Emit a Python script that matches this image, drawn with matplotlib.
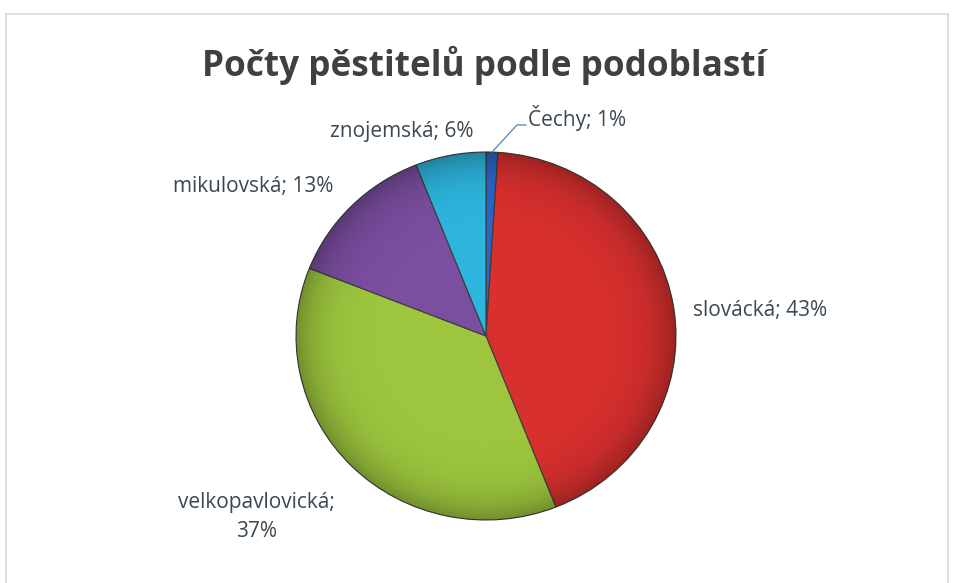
import matplotlib.pyplot as plt
from matplotlib.patches import Rectangle, Circle
import numpy as np

# data
regions = ['Čechy', 'slovácká', 'velkopavlovická', 'mikulovská', 'znojemská']
shares = [1, 43, 37, 13, 6]
colors = ['#2a66c6', '#d8302e', '#9dc63e', '#7b4ea0', '#2db5dd']
title = 'Počty pěstitelů podle podoblastí'

plt.rcParams['font.family'] = ['Open Sans', 'DejaVu Sans']

fig = plt.figure(figsize=(9.54, 5.83), dpi=100)
fig.patch.set_facecolor('white')

# light chart frame
fig.patches.append(Rectangle((6 / 954, -0.05), 942 / 954, 1.05 - 14 / 583,
                             transform=fig.transFigure, fill=False,
                             edgecolor='#d6dbe0', linewidth=1.2))

# pie axes (a bit wider than tall, like the source)
ax = fig.add_axes([(486 - 190) / 954, 63 / 583, 380 / 954, 368 / 583])
labels = ['%s; %d%%' % (r, s) for r, s in zip(regions, shares)]
labels[2] = 'velkopavlovická;\n%d%%' % shares[2]
wedges, texts = ax.pie(shares, labels=labels, colors=colors, startangle=90,
                       counterclock=False,
                       wedgeprops=dict(edgecolor='#3c3c3c', linewidth=0.8),
                       textprops=dict(fontsize=15, color='#3b4852'))
ax.set_aspect('auto')
ax.set_xlim(-1, 1)
ax.set_ylim(-1, 1)

# soft darkening towards the rim (the bevel look of the original)
yy, xx = np.mgrid[-1:1:400j, -1:1:400j]
rr = np.sqrt(xx ** 2 + yy ** 2)
shade = np.zeros((400, 400, 4))
shade[..., 3] = np.clip(0.28 * rr ** 8, 0, 0.28)
im = ax.imshow(shade, extent=(-1, 1, -1, 1), origin='lower', aspect='auto', zorder=3)
im.set_clip_path(Circle((0, 0), 1, transform=ax.transData))
ax.set_xlim(-1, 1)
ax.set_ylim(-1, 1)

# label placement like Excel's outside-end labels
label_pos = [(0.221, 1.185), (1.442, 0.141), (-1.21, -0.984), (-1.226, 0.81), (-0.442, 1.109)]
for i, (t, (x, y)) in enumerate(zip(texts, label_pos)):
    t.set_position((x, y))
    t.set_va('center')
    t.set_ha('left' if i == 0 else 'center')
    if i == 2:
        t.set_multialignment('center')
        t.set_linespacing(1.45)

# leader line for the thin slice
w = wedges[0]
mid = np.deg2rad((w.theta1 + w.theta2) / 2)
ax.plot([np.cos(mid), 0.163, 0.21], [np.sin(mid), 1.147, 1.147],
        color='#5b8fc2', lw=1, clip_on=False)

fig.text(0.508, 0.888, title, ha='center', va='center', fontsize=25.3,
         fontweight='bold', color='#404040')

fig.savefig('out.png', dpi=100)
